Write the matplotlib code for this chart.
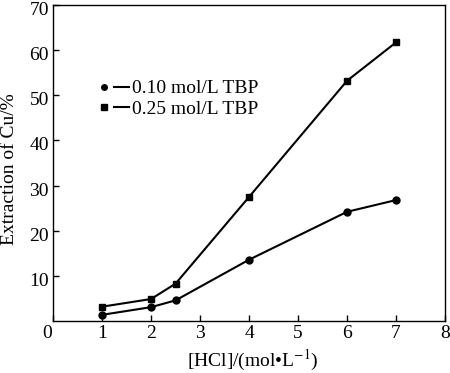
import matplotlib.pyplot as plt
import matplotlib.transforms as mtransforms
from matplotlib.lines import Line2D
from matplotlib.legend_handler import HandlerTuple

plt.rcParams['font.family'] = ['Liberation Serif', 'DejaVu Serif']
plt.rcParams['mathtext.fontset'] = 'stix'

# Dane
hcl = [1, 2, 2.5, 4, 6, 7]
tbp_010 = [1.4, 3.1, 4.6, 13.6, 24.2, 26.8]
tbp_025 = [3.2, 4.9, 8.3, 27.5, 53.2, 61.7]

fig = plt.figure(figsize=(4.5, 3.73), dpi=100)
ax = fig.add_axes([0.118, 0.139, 0.871, 0.848])

ax.plot(hcl, tbp_010, c='black', lw=1.5, marker='o', ms=5)
ax.plot(hcl, tbp_025, c='black', lw=1.5, marker='s', ms=5)

ax.set_xlim(0, 8)
ax.set_ylim(0, 70)
ax.set_xticks(range(0, 9))
ax.set_yticks(range(10, 80, 10))
ax.tick_params(direction='in', length=4, width=1, labelsize=14, pad=3)
for s in ax.spines.values():
    s.set_linewidth(1)

# przesuniecie etykiet osi y lekko w dol, a "0" w lewo
down = mtransforms.ScaledTranslation(0, -2.5 / 72, fig.dpi_scale_trans)
for lab in ax.get_yticklabels():
    lab.set_transform(lab.get_transform() + down)
left = mtransforms.ScaledTranslation(-4.5 / 72, 0, fig.dpi_scale_trans)
lab0 = ax.get_xticklabels()[0]
lab0.set_transform(lab0.get_transform() + left)

ax.set_xlabel('[HCl]/(mol\u2022L$^{-1}$)', fontsize=14, labelpad=4)
ax.set_ylabel('Extraction of Cu/%', fontsize=14, labelpad=8)
ax.xaxis.label.set_x(0.51)
ax.yaxis.label.set_y(0.48)

# legenda: znacznik, potem kreska
h1 = (Line2D([], [], c='black', marker='o', ms=4, ls='none'), Line2D([], [], c='black', lw=1.5))
h2 = (Line2D([], [], c='black', marker='s', ms=4, ls='none'), Line2D([], [], c='black', lw=1.5))
ax.legend([h1, h2], ['0.10 mol/L TBP', '0.25 mol/L TBP'],
          handler_map={tuple: HandlerTuple(ndivide=None, pad=0.1)},
          loc='upper left', bbox_to_anchor=(0.11, 0.763), frameon=False, borderaxespad=0,
          fontsize=14, handlelength=1.7, handletextpad=0.15, labelspacing=0.15, borderpad=0)

fig.savefig('out.png')
